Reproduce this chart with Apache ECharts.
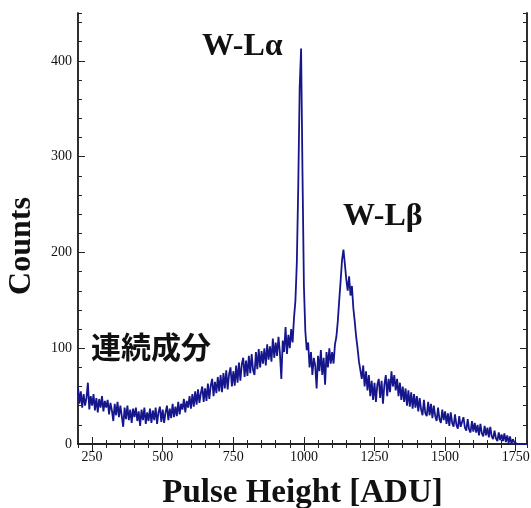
<!DOCTYPE html>
<html>
<head>
<meta charset="utf-8">
<script src="https://cdn.jsdelivr.net/npm/echarts@6/dist/echarts.min.js"></script>
<style>html,body{margin:0;padding:0;background:#fff}#c{width:531px;height:508px}</style>
</head>
<body>
<div id="c"></div>
<script>
// Histogram: bin start, bin width (ADU), counts per bin
const binStart = 200;
const binWidth = 5;
const counts = [
  60, 42, 55, 38, 52, 40, 48, 64, 36, 50,
  40, 52, 35, 48, 33, 47, 38, 50, 34, 45,
  38, 46, 31, 43, 35, 24, 42, 30, 44, 28,
  40, 29, 18, 38, 26, 40, 25, 36, 22, 37,
  28, 38, 24, 34, 19, 36, 25, 38, 21, 33,
  24, 37, 22, 35, 25, 38, 21, 33, 39, 23,
  36, 22, 33, 40, 25, 37, 27, 42, 28, 39,
  29, 44, 31, 42, 36, 47, 33, 45, 38, 50,
  37, 52, 39, 55, 41, 57, 43, 53, 60, 44,
  58, 45, 63, 47, 61, 68, 50, 65, 53, 70,
  55, 72, 54, 74, 58, 77, 57, 73, 80, 60,
  76, 61, 82, 64, 85, 66, 83, 90, 70, 87,
  71, 92, 74, 94, 77, 72, 96, 78, 99, 80,
  97, 84, 100, 82, 104, 88, 102, 86, 110, 90,
  106, 92, 112, 95, 68, 108, 96, 122, 94, 114,
  100, 120, 106, 132, 150, 190, 270, 372, 413, 282,
  165, 118, 98, 106, 80, 96, 72, 90, 82, 58,
  92, 76, 98, 72, 90, 62, 96, 80, 100, 84,
  96, 84, 104, 112, 128, 150, 170, 192, 203, 188,
  172, 160, 175, 155, 165, 142, 128, 112, 100, 86,
  84, 68, 82, 60, 76, 56, 72, 50, 66, 46,
  64, 44, 62, 68, 48, 66, 42, 62, 72, 50,
  68, 54, 76, 60, 72, 56, 68, 50, 64, 46,
  60, 44, 58, 40, 56, 39, 54, 37, 52, 38,
  50, 34, 48, 36, 30, 46, 32, 29, 44, 30,
  42, 27, 40, 29, 24, 38, 26, 22, 36, 25,
  34, 21, 32, 19, 33, 22, 18, 31, 20, 16,
  29, 18, 16, 28, 17, 14, 26, 15, 12, 24,
  13, 22, 12, 20, 9, 21, 11, 8, 19, 9,
  17, 7, 18, 8, 5, 14, 6, 3, 12, 4,
  10, 3, 11, 2, 9, 1, 8, 0, 5, 2,
  4, 0, 2, 0, 1, 0, 0, 0, 0
];
const xMajorTicks = [250, 500, 750, 1000, 1250, 1500, 1750];
const yMajorTicks = [0, 100, 200, 300, 400];
const labels = ['W-Lα', 'W-Lβ', '連続成分'];
const xName = 'Pulse Height [ADU]';
const yName = 'Counts';

const seriesData = counts.map((c, i) => [binStart + i * binWidth, c]);

const serif = 'Liberation Serif';
const axisColor = '#222';
const xMin = 200, xMax = 1790, yMin = 0, yMax = 450;

function xAx(pos, major, showLabel) {
  const a = {
    type: 'value', position: pos, min: xMin, max: xMax,
    axisLine: { show: true, lineStyle: { color: axisColor, width: 1.5 } },
    splitLine: { show: false },
    axisTick: { show: true, inside: true, length: major ? 7 : 4, lineStyle: { color: axisColor, width: 1 } },
    axisLabel: { show: false }
  };
  if (major) {
    a.axisTick.customValues = xMajorTicks;
    a.axisLabel = { show: showLabel, customValues: xMajorTicks, formatter: v => String(v), fontFamily: serif, fontSize: 14, color: '#111', margin: 6 };
  } else {
    a.interval = 50;
  }
  return a;
}
function yAx(pos, major, showLabel) {
  const a = {
    type: 'value', position: pos, min: yMin, max: yMax,
    axisLine: { show: true, lineStyle: { color: axisColor, width: 1.5 } },
    splitLine: { show: false },
    axisTick: { show: true, inside: true, length: major ? 7 : 4, lineStyle: { color: axisColor, width: 1 } },
    axisLabel: { show: false }
  };
  if (major) {
    a.axisTick.customValues = yMajorTicks;
    a.axisLabel = { show: showLabel, customValues: yMajorTicks, formatter: v => String(v), fontFamily: serif, fontSize: 14, color: '#111', margin: 6 };
  } else {
    a.interval = 20;
  }
  return a;
}

const xAxes = [xAx('bottom', true, true), xAx('bottom', false, false), xAx('top', true, false), xAx('top', false, false)];
xAxes[0].name = xName;
xAxes[0].nameLocation = 'middle';
xAxes[0].nameGap = 33;
xAxes[0].nameTextStyle = { fontFamily: serif, fontWeight: 'bold', fontSize: 33, color: '#111' };
const yAxes = [yAx('left', true, true), yAx('left', false, false), yAx('right', true, false), yAx('right', false, false)];

const chart = echarts.init(document.getElementById('c'), null, { renderer: 'canvas' });
chart.setOption({
  animation: false,
  backgroundColor: '#fff',
  grid: { left: 78, right: 4, top: 13, bottom: 64, containLabel: false, outerBoundsMode: 'none' },
  xAxis: xAxes,
  yAxis: yAxes,
  graphic: [
    { type: 'text', left: 202, top: 31, style: { text: labels[0], font: 'bold 32px "Liberation Serif"', fill: '#111' } },
    { type: 'text', left: 343, top: 201, style: { text: labels[1], font: 'bold 32px "Liberation Serif"', fill: '#111' } },
    { type: 'text', left: 91, top: 332, style: { text: labels[2], font: 'bold 30px "Noto Sans CJK JP"', fill: '#111' } },
    { type: 'text', x: 22, y: 246, rotation: Math.PI / 2, style: { text: yName, font: 'bold 32px "Liberation Serif"', fill: '#111', align: 'center', verticalAlign: 'middle' } }
  ],
  series: [{
    type: 'line', xAxisIndex: 0, yAxisIndex: 0,
    data: seriesData, showSymbol: false, symbol: 'none',
    lineStyle: { color: '#16168c', width: 1.8 },
    z: 3
  }]
});
</script>
</body>
</html>
